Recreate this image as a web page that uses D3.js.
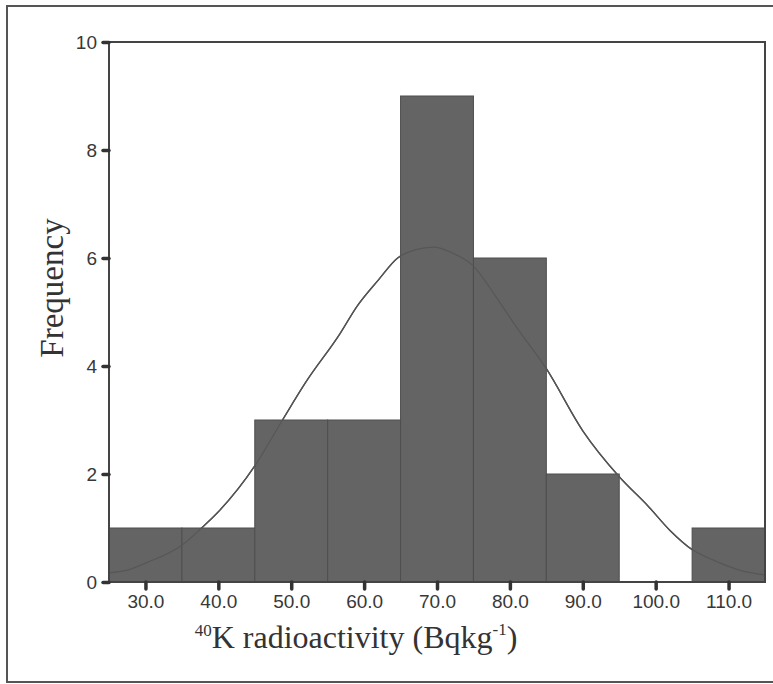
<!DOCTYPE html>
<html>
<head>
<meta charset="utf-8">
<script src="https://cdn.jsdelivr.net/npm/d3@7"></script>
<style>
  html, body { margin: 0; padding: 0; background: #fff; }
  svg { display: block; }
</style>
</head>
<body>
<svg id="chart" width="773" height="684"></svg>
<script>
// ---- data ----
const binCenters = [30, 40, 50, 60, 70, 80, 90, 100, 110];
const binFrequency = [1, 1, 3, 3, 9, 6, 2, 0, 1];
const binWidth = 10;
const xTickValues = [30, 40, 50, 60, 70, 80, 90, 100, 110];
const yTickValues = [0, 2, 4, 6, 8, 10];
// normal curve, points
const curveX = [25, 27.5, 30, 35, 37.7, 40, 45, 48.8, 52, 56.7, 59, 62, 64.6, 67, 69.5, 72, 75, 78, 81, 85, 90, 95, 99, 102, 105, 108, 112, 115];
const curveY = [0.17, 0.22, 0.35, 0.68, 1.0, 1.3, 2.15, 3.0, 3.7, 4.6, 5.1, 5.6, 6.0, 6.15, 6.2, 6.1, 5.85, 5.3, 4.7, 3.95, 2.8, 1.95, 1.4, 0.95, 0.6, 0.4, 0.2, 0.13];

// ---- layout ----
const svg = d3.select("#chart");
const L = 109, R = 765, T = 42, B = 582;
const x = d3.scaleLinear().domain([25, 115]).range([L, R]);
const y = d3.scaleLinear().domain([0, 10]).range([B, T]);

// outer frame
svg.append("rect").attr("x", 7).attr("y", 6).attr("width", 800).attr("height", 676)
  .attr("fill", "none").attr("stroke", "#555").attr("stroke-width", 2);

const pts = curveX.map((v, i) => [v, curveY[i]]);
const lineGen = d3.line().x((d) => x(d[0])).y((d) => y(d[1])).curve(d3.curveMonotoneX);

// curve (visible part, drawn under bars)
svg.append("path").datum(pts)
  .attr("fill", "none").attr("stroke", "#3a3a3a").attr("stroke-width", 1.4)
  .attr("d", lineGen);

// bars
svg.append("g").selectAll("rect").data(binCenters).join("rect")
  .attr("x", (d) => x(d - binWidth / 2))
  .attr("width", (d) => x(d + binWidth / 2) - x(d - binWidth / 2))
  .attr("y", (d, i) => y(binFrequency[i]))
  .attr("height", (d, i) => y(0) - y(binFrequency[i]))
  .attr("fill", "#646464")
  .attr("stroke", "#4e4e4e")
  .attr("stroke-width", 1)
  .style("display", (d, i) => binFrequency[i] > 0 ? null : "none");

// curve, faint inside the bars
svg.append("path").datum(pts)
  .attr("fill", "none").attr("stroke", "#575757").attr("stroke-width", 1.2)
  .attr("d", lineGen);

// plot frame
svg.append("rect").attr("x", L).attr("y", T).attr("width", R - L).attr("height", B - T)
  .attr("fill", "none").attr("stroke", "#444").attr("stroke-width", 2);

// axes
const xAxis = d3.axisBottom(x).tickValues(xTickValues).tickFormat(d3.format(".1f")).tickSize(7).tickPadding(6);
const gx = svg.append("g").attr("transform", `translate(0,${B})`).call(xAxis);
const yAxis = d3.axisLeft(y).tickValues(yTickValues).tickFormat(d3.format("d")).tickSize(6).tickPadding(6);
const gy = svg.append("g").attr("transform", `translate(${L},0)`).call(yAxis);
[gx, gy].forEach((g) => {
  g.select(".domain").remove();
  g.selectAll(".tick line").attr("stroke", "#333").attr("stroke-width", 3.5).attr("stroke-linecap", "round");
  g.selectAll(".tick text").attr("fill", "#383838")
    .style("font-family", "'Liberation Sans', Arial, sans-serif").style("font-size", "19px");
});
gy.selectAll(".tick text").attr("dy", "0.35em");

// axis titles
const serif = "'Liberation Serif', 'Times New Roman', serif";
svg.append("text").attr("transform", "translate(63,288) rotate(-90)")
  .attr("text-anchor", "middle").attr("fill", "#333")
  .style("font-family", serif).style("font-size", "33px").text("Frequency");

const xt = svg.append("text").attr("x", 356).attr("y", 648)
  .attr("text-anchor", "middle").attr("fill", "#333")
  .style("font-family", serif).style("font-size", "32px");
xt.append("tspan").attr("font-size", "17px").attr("dy", "-12").text("40");
xt.append("tspan").attr("dy", "12").text("K radioactivity (Bqkg");
xt.append("tspan").attr("font-size", "17px").attr("dy", "-13").text("-1");
xt.append("tspan").attr("dy", "13").text(")");
</script>
</body>
</html>
